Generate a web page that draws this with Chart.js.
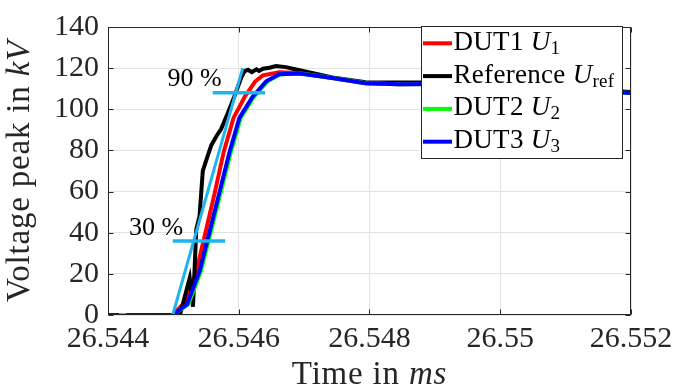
<!DOCTYPE html>
<html>
<head>
<meta charset="utf-8">
<script src="https://cdn.jsdelivr.net/npm/chart.js@4.4.1/dist/chart.umd.min.js"></script>
<style>
html, body { margin: 0; padding: 0; background: #fff; }
#probe { position: absolute; left: -1000px; top: 0; font-family: "Liberation Serif"; }
</style>
</head>
<body>
<canvas id="c" width="684" height="392"></canvas>
<div id="probe">Abc <i>Abc</i></div>
<script>
// Achsen
const xTicks = [26.544, 26.546, 26.548, 26.550, 26.552];
const yTicks = [0, 20, 40, 60, 80, 100, 120, 140];

// DUT1 (rot)
const tDut1 = [26.544, 26.54499, 26.5452, 26.54535, 26.54549, 26.54563, 26.54577, 26.54592, 26.54609, 26.54625, 26.54637, 26.54662, 26.54693, 26.54743, 26.54794, 26.54845, 26.549, 26.5495, 26.55, 26.5505, 26.551, 26.5515, 26.552];
const vDut1 = [0, 0, 7, 21, 40, 59, 79.3, 95.8, 106, 113.5, 116.5, 118, 117.6, 115.2, 112.7, 112.2, 112.3, 112.2, 111.9, 111.1, 110.1, 108.9, 107.9];

// Referenz (schwarz)
const tRef = [26.544, 26.5451, 26.54525, 26.5453, 26.54535, 26.5454, 26.54545, 26.54553, 26.54558, 26.54566, 26.54573, 26.54583, 26.54593, 26.54604, 26.54609, 26.54614, 26.5462, 26.54627, 26.54631, 26.54637, 26.54647, 26.54657, 26.54672, 26.54693, 26.54743, 26.54794, 26.54845, 26.549, 26.5495, 26.55, 26.5505, 26.551, 26.5515, 26.552];
const vRef = [0, 0, 18, 4, 41.6, 48, 70, 77.8, 82.5, 87, 90.4, 98, 106, 115.5, 118.6, 119.2, 118, 119.4, 118.6, 119.7, 120.2, 121, 120.5, 119, 115.5, 113.1, 113, 113, 112.8, 112.4, 111.6, 110.6, 109.4, 108.4];

// DUT2 (gruen)
const tDut2 = [26.544, 26.54499, 26.54523, 26.54542, 26.54557, 26.54572, 26.54588, 26.54603, 26.54623, 26.54644, 26.54664, 26.54695, 26.54745, 26.54796, 26.54845, 26.549, 26.5495, 26.55, 26.5505, 26.551, 26.5515, 26.552];
const vDut2 = [0, 0, 5.2, 21.2, 40, 59, 79.3, 95.8, 106, 113.6, 117, 117.4, 115.2, 112.7, 112.2, 112.3, 112.2, 111.9, 111.1, 110.1, 108.9, 107.9];

// DUT3 (blau), Luecke am Anfang
const tDut3 = [26.544, 26.54417, 26.54422, 26.54428, 26.54499, 26.54521, 26.5454, 26.54555, 26.5457, 26.54586, 26.54601, 26.54621, 26.54642, 26.54662, 26.54693, 26.54743, 26.54794, 26.54845, 26.549, 26.5495, 26.55, 26.5505, 26.551, 26.5515, 26.552];
const vDut3 = [0, 0, null, 0, 0, 5.2, 21.2, 40, 59, 79.3, 95.8, 106, 113.6, 117, 117.4, 115.2, 112.7, 112.2, 112.3, 112.2, 111.9, 111.1, 110.1, 108.9, 107.9];

// Anstiegsgerade und 30 % / 90 % Marken
const tRise = [26.54499, 26.546061];
const vRise = [0, 120];
const t30 = [26.54499, 26.545792];
const v30 = [36, 36];
const t90 = [26.545603, 26.546403];
const v90 = [108, 108];
const markText = ['30 %', '90 %'];
const markT = [26.54432, 26.54491];
const markV = [39.1, 111.2];

// Legende
const legendNames = ['DUT1', 'Reference', 'DUT2', 'DUT3'];
const legendSubs = ['1', 'ref', '2', '3'];
const legendColors = ['#ff0000', '#000000', '#00ff00', '#0000ff'];

const pts = (t, v) => t.map((x, i) => ({ x: x, y: v[i] }));
const FONT = '"Liberation Serif", "DejaVu Serif", Times, serif';
const INK = '#262626';

function drawParts(ctx, parts, x, y, align, spacing) {
    ctx.letterSpacing = spacing || '0px';
    let total = 0;
    parts.forEach(p => { ctx.font = p.font; total += ctx.measureText(p.text).width; });
    let cx = align === 'center' ? x - total / 2 : x;
    ctx.textAlign = 'left';
    ctx.textBaseline = 'alphabetic';
    parts.forEach(p => {
        ctx.font = p.font;
        ctx.fillText(p.text, cx, y + (p.dy || 0));
        cx += ctx.measureText(p.text).width;
    });
    ctx.letterSpacing = '0px';
}

const framePlugin = {
    id: 'frame',
    afterDraw(chart) {
        const ctx = chart.ctx;
        const a = chart.chartArea;
        const sx = chart.scales.x, sy = chart.scales.y;
        ctx.save();
        // Rahmen und Ticks nach innen
        ctx.strokeStyle = INK;
        ctx.lineWidth = 1;
        const L = Math.round(a.left) + 0.5, R = Math.round(a.right) - 0.5;
        const T = Math.round(a.top) + 0.5, B = Math.round(a.bottom) - 0.5;
        ctx.strokeRect(L, T, R - L, B - T);
        ctx.beginPath();
        xTicks.forEach(v => {
            const px = Math.round(sx.getPixelForValue(v)) + 0.5;
            ctx.moveTo(px, B); ctx.lineTo(px, B - 5);
            ctx.moveTo(px, T); ctx.lineTo(px, T + 5);
        });
        yTicks.forEach(v => {
            const py = Math.round(sy.getPixelForValue(v)) + 0.5;
            ctx.moveTo(L, py); ctx.lineTo(L + 5, py);
            ctx.moveTo(R, py); ctx.lineTo(R - 5, py);
        });
        ctx.stroke();

        // 30 % / 90 % Beschriftung
        ctx.fillStyle = '#000';
        ctx.font = '26px ' + FONT;
        ctx.textAlign = 'left';
        ctx.textBaseline = 'alphabetic';
        markText.forEach((s, i) => {
            ctx.fillText(s, sx.getPixelForValue(markT[i]), sy.getPixelForValue(markV[i]));
        });

        // Achsentitel
        ctx.fillStyle = INK;
        drawParts(ctx, [
            { text: 'Time in ', font: '33px ' + FONT },
            { text: 'ms', font: 'italic 33px ' + FONT }
        ], (a.left + a.right) / 2, 384, 'center', '0.8px');
        ctx.save();
        ctx.translate(29, (a.top + a.bottom) / 2);
        ctx.rotate(-Math.PI / 2);
        drawParts(ctx, [
            { text: 'Voltage peak in ', font: '33px ' + FONT },
            { text: 'kV', font: 'italic 33px ' + FONT }
        ], 0, 0, 'center', '0.8px');
        ctx.restore();

        // Legende
        ctx.fillStyle = '#fff';
        ctx.fillRect(421.5, 26.5, 201, 132);
        ctx.strokeStyle = INK;
        ctx.lineWidth = 1;
        ctx.strokeRect(421.5, 26.5, 201, 132);
        legendNames.forEach((name, i) => {
            const yc = 43.3 + i * 32.8;
            ctx.strokeStyle = legendColors[i];
            ctx.lineWidth = 4;
            ctx.beginPath();
            ctx.moveTo(423, yc); ctx.lineTo(452, yc);
            ctx.stroke();
            ctx.fillStyle = '#000';
            drawParts(ctx, [
                { text: name + ' ', font: '27px ' + FONT },
                { text: 'U', font: 'italic 27px ' + FONT },
                { text: legendSubs[i], font: '19px ' + FONT, dy: 4 }
            ], 453.5, yc + 6.5, 'left', '0.3px');
        });
        ctx.restore();
    }
};

const lineDs = (t, v, color, order, width) => ({
    data: pts(t, v),
    borderColor: color,
    backgroundColor: color,
    borderWidth: width,
    pointRadius: 0,
    tension: 0,
    fill: false,
    spanGaps: false,
    order: order
});

function makeChart() {
    new Chart(document.getElementById('c'), {
        type: 'line',
        data: {
            datasets: [
                lineDs(tDut1, vDut1, '#ff0000', 4, 4),
                lineDs(tRef, vRef, '#000000', 3, 4),
                lineDs(tDut2, vDut2, '#00ff00', 2, 4),
                lineDs(tDut3, vDut3, '#0000ff', 1, 4),
                lineDs(tRise, vRise, '#1eb4f0', 0, 3),
                lineDs(t30, v30, '#1eb4f0', 0, 3.5),
                lineDs(t90, v90, '#1eb4f0', 0, 3.5)
            ]
        },
        options: {
            responsive: false,
            animation: false,
            devicePixelRatio: 1,
            layout: { padding: { top: 18, right: 53, left: 0, bottom: 0 } },
            plugins: { legend: { display: false }, tooltip: { enabled: false } },
            scales: {
                x: {
                    type: 'linear',
                    min: xTicks[0],
                    max: xTicks[xTicks.length - 1],
                    afterBuildTicks: s => { s.ticks = xTicks.map(v => ({ value: v })); },
                    afterFit: s => { s.height = 77; },
                    ticks: {
                        autoSkip: false,
                        maxRotation: 0,
                        padding: 6,
                        color: INK,
                        font: { family: FONT, size: 30 },
                        callback: v => String(+Number(v).toFixed(3))
                    },
                    grid: { color: '#e3e3e3', drawTicks: false },
                    border: { display: false }
                },
                y: {
                    min: yTicks[0],
                    max: yTicks[yTicks.length - 1],
                    afterBuildTicks: s => { s.ticks = yTicks.map(v => ({ value: v })); },
                    afterFit: s => { s.width = 108; },
                    ticks: {
                        padding: 9,
                        color: INK,
                        font: { family: FONT, size: 30 }
                    },
                    grid: { color: '#e3e3e3', drawTicks: false },
                    border: { display: false }
                }
            }
        },
        plugins: [framePlugin]
    });
}

Promise.all([
    document.fonts.load('30px "Liberation Serif"'),
    document.fonts.load('italic 30px "Liberation Serif"')
]).then(makeChart, makeChart);
</script>
</body>
</html>
